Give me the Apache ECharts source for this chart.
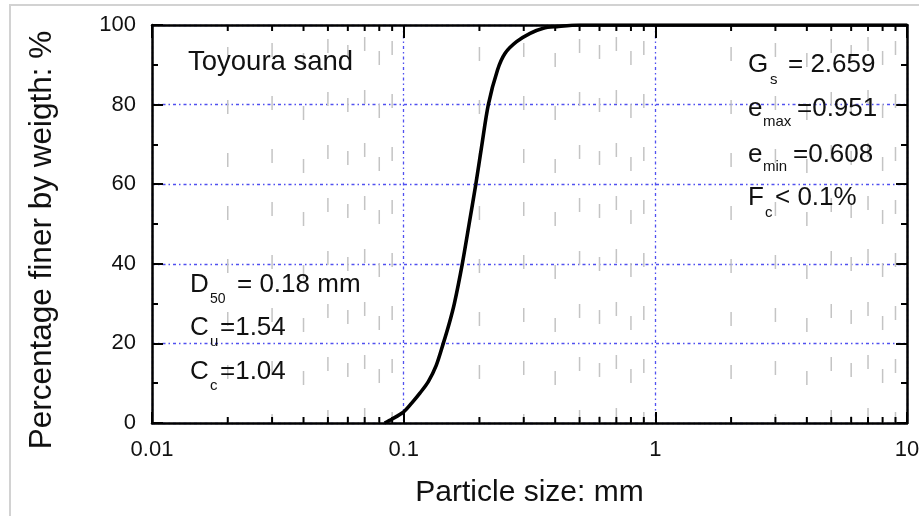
<!DOCTYPE html>
<html>
<head>
<meta charset="utf-8">
<script src="https://cdn.jsdelivr.net/npm/echarts@6/dist/echarts.min.js"></script>
<style>html,body{margin:0;padding:0;background:#fff}#c{width:919px;height:516px}</style>
</head>
<body>
<div id="c"></div>
<script>
// Particle size distribution of Toyoura sand
const sizesMm = [0.084, 0.09, 0.1, 0.1076, 0.116, 0.1253, 0.1346, 0.1437, 0.1517, 0.159, 0.171, 0.182, 0.1935, 0.204, 0.217, 0.236, 0.253, 0.281, 0.318, 0.359, 0.406, 0.5, 10];
const percentFiner = [0, 1.0, 2.8, 5, 7.5, 10.4, 14.4, 20, 25, 30, 40, 50, 60, 69.4, 80, 88.7, 92.9, 95.8, 97.9, 99.2, 99.6, 100, 100];
// minor tick values of the log axis
const minorTickValues = [0.02, 0.03, 0.04, 0.05, 0.06, 0.07, 0.08, 0.09,
                         0.2, 0.3, 0.4, 0.5, 0.6, 0.7, 0.8, 0.9,
                         2, 3, 4, 5, 6, 7, 8, 9];
const xMin = 0.01, xMax = 10;
const yMin = 0, yMax = 100, yInterval = 20;

const FONT = '"Liberation Sans", Arial, sans-serif';
const chart = echarts.init(document.getElementById('c'), null, {renderer: 'canvas'});

const blueGrid = {color: '#5050f0', width: 1.3, type: [3, 3, 1.5, 3]};
const stagger = [0, 4, -6, 8, 2, 10, -4, 6];

function txt(x, y, text, size) {
  return {type: 'text', x: x, y: y, z: 50,
    style: {text: text, fontSize: size, fontFamily: FONT, fill: '#111', align: 'left', verticalAlign: 'middle'}};
}
const M = 26, S = 15;
const graphics = [
  {type: 'rect', shape: {x: 10, y: 5, width: 1000, height: 1000}, style: {fill: 'none', stroke: '#d2d2d2', lineWidth: 2}, z: -10},
  {type: 'text', x: 42, y: 240, rotation: Math.PI / 2, z: 50,
   style: {text: 'Percentage finer by weigth: %', fontSize: 31.5, fontFamily: FONT, fill: '#111', align: 'center', verticalAlign: 'middle'}},
  txt(188, 62.5, 'Toyoura sand', 27.5),
  txt(748, 64.6, 'G', M), txt(770, 80, 's', S), txt(788, 64.6, '= 2.659', M),
  txt(748, 109, 'e', M), txt(763, 122, 'max', S), txt(797, 109, '=0.951', M),
  txt(748, 154.5, 'e', M), txt(763, 167, 'min', S), txt(793, 154.5, '=0.608', M),
  txt(748, 198, 'F', M), txt(765, 213, 'c', S), txt(775, 198, '< 0.1%', M),
  txt(190, 285.3, 'D', M), txt(210, 298.8, '50', S - 1), txt(237, 285.3, '= 0.18 mm', M),
  txt(190, 328.3, 'C', M), txt(210, 342, 'u', S), txt(220, 328.3, '=1.54', M),
  txt(190, 371.6, 'C', M), txt(210, 386, 'c', S), txt(220, 371.6, '=1.04', M)
];

const option = {
  animation: false,
  backgroundColor: '#fff',
  grid: {left: 152, top: 25, right: 12, bottom: 93, containLabel: false, outerBoundsMode: 'none'},
  xAxis: [
    {
      type: 'log', logBase: 10, min: xMin, max: xMax, position: 'bottom',
      name: 'Particle size: mm', nameLocation: 'middle', nameGap: 55,
      nameTextStyle: {fontSize: 30, fontFamily: FONT, color: '#111'},
      axisLine: {show: true, onZero: false, lineStyle: {color: '#000', width: 2.5}},
      axisTick: {show: true, inside: true, length: 11, lineStyle: {color: '#000', width: 2}},
      minorTick: {show: false},
      axisLabel: {fontSize: 22, fontFamily: FONT, color: '#111', margin: 16, hideOverlap: false,
        formatter: function (v) { return String(+v.toPrecision(6)); }},
      splitLine: {show: true, lineStyle: blueGrid}
    },
    {
      type: 'log', logBase: 10, min: xMin, max: xMax, position: 'top',
      axisLine: {show: true, onZero: false, lineStyle: {color: '#000', width: 2.5}},
      axisTick: {show: true, inside: true, length: 13, lineStyle: {color: '#000', width: 2}},
      axisLabel: {show: false},
      splitLine: {show: false}
    }
  ],
  yAxis: [
    {
      type: 'value', min: yMin, max: yMax, interval: yInterval, position: 'left',
      axisLine: {show: true, onZero: false, lineStyle: {color: '#000', width: 2.5}},
      axisTick: {show: true, inside: true, length: 11, lineStyle: {color: '#000', width: 2}},
      minorTick: {show: true, splitNumber: 2, length: 6, lineStyle: {color: '#000', width: 2}},
      axisLabel: {fontSize: 22, fontFamily: FONT, color: '#111', margin: 16},
      splitLine: {show: true, lineStyle: blueGrid}
    },
    {
      type: 'value', min: yMin, max: yMax, interval: yInterval, position: 'right',
      axisLine: {show: true, onZero: false, lineStyle: {color: '#000', width: 2.5}},
      axisTick: {show: true, inside: true, length: 11, lineStyle: {color: '#000', width: 2}},
      minorTick: {show: true, splitNumber: 2, length: 6, lineStyle: {color: '#000', width: 2}},
      axisLabel: {show: false},
      splitLine: {show: false}
    }
  ],
  graphic: graphics,
  series: [
    {
      type: 'custom', xAxisIndex: 0, yAxisIndex: 0, silent: true, z: 1,
      data: minorTickValues.map(function (v) { return [v, 0]; }),
      renderItem: function (params, api) {
        const v = api.value(0);
        const top = api.coord([v, yMax]);
        const bot = api.coord([v, yMin]);
        const i = params.dataIndex % 8;
        return {type: 'group', children: [
          {type: 'line', shape: {x1: top[0], y1: top[1], x2: bot[0], y2: bot[1]},
           style: {stroke: '#c4c4c4', lineWidth: 1.5, lineDash: [14, 39], lineDashOffset: 31 + stagger[i]}},
          {type: 'line', shape: {x1: bot[0], y1: bot[1], x2: bot[0], y2: bot[1] - 6},
           style: {stroke: '#000', lineWidth: 2}},
          {type: 'line', shape: {x1: top[0], y1: top[1], x2: top[0], y2: top[1] + 6},
           style: {stroke: '#000', lineWidth: 2}}
        ]};
      }
    },
    {
      type: 'line', xAxisIndex: 0, yAxisIndex: 0, z: 5,
      data: sizesMm.map(function (s, i) { return [s, percentFiner[i]]; }),
      showSymbol: false, symbol: 'none', smooth: 0.3, clip: true,
      lineStyle: {color: '#000', width: 3.6}
    }
  ]
};
chart.setOption(option);
</script>
</body>
</html>
